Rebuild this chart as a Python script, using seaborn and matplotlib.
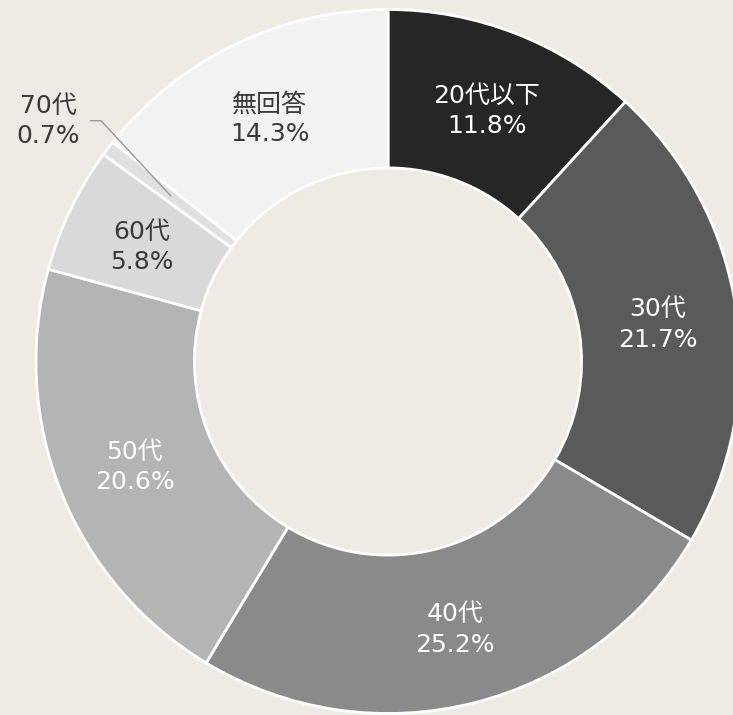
import numpy as np
import matplotlib
matplotlib.use("Agg")
import matplotlib.pyplot as plt
import seaborn as sns

# データ
labels = ["20代以下", "30代", "40代", "50代", "60代", "70代", "無回答"]
values = [11.8, 21.7, 25.2, 20.6, 5.8, 0.7, 14.3]
colors = ["#262626", "#5a5a5a", "#8a8a8a", "#b4b4b4", "#d9d9d9", "#e0e0e0", "#f2f2f2"]
text_colors = ["white", "white", "white", "white", "#3a3a3a", "#3a3a3a", "#3a3a3a"]

sns.set_theme(style="white")
plt.rcParams["font.family"] = ["DejaVu Sans", "Noto Sans CJK JP"]

bg = "#eeebe4"
fig = plt.figure(figsize=(7.33, 7.15), dpi=100, facecolor=bg)
ax = fig.add_axes([0, 0, 1, 1])
ax.set_facecolor(bg)

R = 352.0
cx, cy = 388.0, 361.5
width = 0.45

wedges, _ = ax.pie(values, colors=colors, startangle=90, counterclock=False,
                   radius=1.0,
                   wedgeprops=dict(width=width, edgecolor="white", linewidth=2.0))

rmid = 1.0 - width / 2
fs = 18
for w, lab, v, tc in zip(wedges, labels, values, text_colors):
    ang = np.deg2rad((w.theta1 + w.theta2) / 2)
    x, y = rmid * np.cos(ang), rmid * np.sin(ang)
    txt = f"{lab}\n{v:.1f}%"
    if lab == "70代":
        # 引き出し線
        ex, ey = 1.064 * np.cos(np.deg2rad(140)), 1.064 * np.sin(np.deg2rad(140))
        ax.plot([ex - 0.03, ex, x], [ey, ey, y], color="#9a9a9a", lw=1.0, zorder=3)
        ax.text(ex - 0.15, ey + 0.0, txt, ha="center", va="center", fontsize=fs,
                color=tc, linespacing=1.32)
    else:
        ax.text(x, y - 0.01, txt, ha="center", va="center", fontsize=fs, color=tc,
                linespacing=1.32)

ax.set_xlim(-cx / R, (733 - cx) / R)
ax.set_ylim(-(715 - cy) / R, cy / R)
ax.set_aspect("equal")
ax.axis("off")

fig.savefig("out.png", dpi=100, facecolor=bg)
